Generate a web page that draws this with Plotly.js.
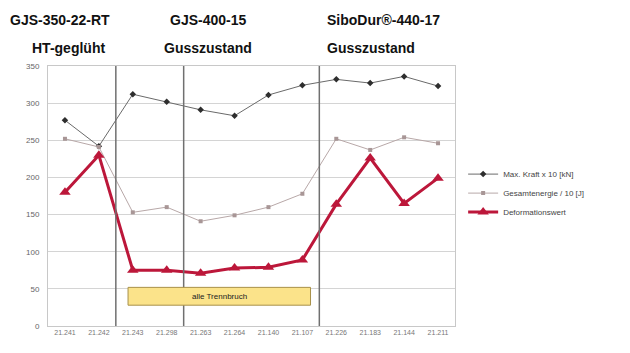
<!DOCTYPE html>
<html>
<head>
<meta charset="utf-8">
<script src="https://cdn.plot.ly/plotly-3.0.1.min.js"></script>
<style>
  html, body { margin: 0; padding: 0; background: #fff; }
  #chart { width: 630px; height: 353px; }
</style>
</head>
<body>
<div id="chart"></div>
<script>
// Sample numbers along the x axis
const samples = ["21.241", "21.242", "21.243", "21.298", "21.263", "21.264",
                 "21.140", "21.107", "21.226", "21.183", "21.144", "21.211"];

// Max. force x 10 [kN]
const maxKraft = [277, 242, 312, 302, 291, 283, 311, 324, 332, 327, 336, 323];

// Total energy / 10 [J]
const gesamtenergie = [252, 241, 153, 160, 141, 149, 160, 178, 252, 237, 254, 246];

// Deformation value
const deformation = [180, 230, 75, 75, 71, 78, 79, 89, 164, 226, 165, 199];

const seriesNames = ["Max. Kraft x 10 [kN]", "Gesamtenergie / 10 [J]", "Deformationswert"];

// Material group headings
const groupTitles = ["GJS-350-22-RT", "GJS-400-15", "SiboDur®-440-17"];
const groupStates = ["HT-geglüht", "Gusszustand", "Gusszustand"];
const boxLabel = "alle Trennbruch";

const traces = [
  {
    x: samples, y: maxKraft, name: seriesNames[0], type: "scatter", mode: "lines+markers",
    line: { color: "#6a6a6a", width: 1 },
    marker: { symbol: "diamond", size: 5, color: "#2e2e2e" }
  },
  {
    x: samples, y: gesamtenergie, name: seriesNames[1], type: "scatter", mode: "lines+markers",
    line: { color: "#b8a8a8", width: 1 },
    marker: { symbol: "square", size: 4, color: "#a89696" }
  },
  {
    x: samples, y: deformation, name: seriesNames[2], type: "scatter", mode: "lines+markers",
    line: { color: "#bc173a", width: 3 },
    marker: { symbol: "triangle-up", size: 10, color: "#bc173a" }
  }
];

const titleFont = { family: "Liberation Sans, Arial, sans-serif", size: 14, color: "#111" };
const titleX = [-0.098, 0.295, 0.68];
const stateX = [-0.043, 0.28, 0.68];

const annotations = [];
groupTitles.forEach((t, i) => annotations.push({
  text: "<b>" + t + "</b>", xref: "paper", yref: "paper", x: titleX[i], y: 1.177,
  xanchor: "left", yanchor: "middle", showarrow: false, font: titleFont
}));
groupStates.forEach((t, i) => annotations.push({
  text: "<b>" + t + "</b>", xref: "paper", yref: "paper", x: stateX[i], y: 1.069,
  xanchor: "left", yanchor: "middle", showarrow: false, font: titleFont
}));
annotations.push({
  text: boxLabel, xref: "x", yref: "y", x: 4.55, y: 40, showarrow: false,
  font: { family: "Liberation Sans, Arial, sans-serif", size: 8, color: "#222" }
});

// Group separators and the highlighted box
const shapes = [1.5, 3.5, 7.5].map(xv => ({
  type: "line", xref: "x", yref: "y", x0: xv, x1: xv, y0: 0, y1: 350,
  line: { color: "#707070", width: 1.5 }
}));
shapes.push({
  type: "rect", xref: "x", yref: "y", x0: 1.86, x1: 7.24, y0: 28, y1: 52,
  fillcolor: "#fbe38a", line: { color: "#a8914a", width: 1 }, layer: "above"
});

const layout = {
  width: 630, height: 353,
  margin: { l: 48, r: 175, t: 66, b: 27 },
  paper_bgcolor: "#fff", plot_bgcolor: "#fff",
  font: { family: "Liberation Sans, Arial, sans-serif", color: "#555" },
  showlegend: true,
  legend: {
    x: 1.02, y: 0.64, xanchor: "left", yanchor: "top",
    font: { size: 8, color: "#444" }, itemwidth: 30, tracegroupgap: 0,
    bgcolor: "rgba(255,255,255,0)"
  },
  xaxis: {
    type: "category", range: [-0.5, 11.5], showgrid: false,
    tickfont: { size: 7, color: "#777" }, ticks: "", ticklen: 0,
    showline: true, linecolor: "#c8c8c8", mirror: true, zeroline: false
  },
  yaxis: {
    range: [0, 350], dtick: 50, tickfont: { size: 8, color: "#666" },
    gridcolor: "#d4d4d4", showline: true, linecolor: "#c8c8c8", mirror: true,
    zeroline: false, ticks: "", ticklabelstandoff: 6
  },
  annotations: annotations,
  shapes: shapes
};

Plotly.newPlot("chart", traces, layout, { displayModeBar: false, staticPlot: true });
</script>
</body>
</html>
